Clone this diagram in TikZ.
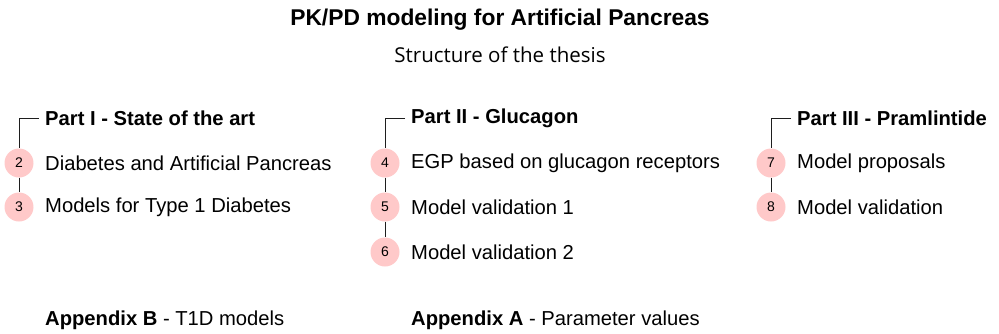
\documentclass[tikz,border=0pt]{standalone}
\usepackage{fontspec}
\setmainfont{Liberation Sans}
\newfontfamily\subfont{Open Sans}
\definecolor{pinkfill}{HTML}{FFC9C9}
\definecolor{linegray}{HTML}{1E1E1E}
\begin{document}
\begin{tikzpicture}[x=1pt,y=-1pt,
  every node/.style={inner sep=0pt},
  num/.style={circle,fill=pinkfill,minimum size=29pt,font=\fontsize{14}{14}\selectfont},
  item/.style={anchor=west,font=\fontsize{20.2}{20}\selectfont},
  head/.style={anchor=west,font=\fontsize{20.2}{20}\selectfont\bfseries},
  appx/.style={anchor=west,font=\fontsize{20.2}{20}\selectfont},
  link/.style={draw=linegray,line width=1pt}]
\useasboundingbox (0,0) rectangle (999,333);
\node (title) at (500,20) {\fontsize{22.8}{23}\selectfont\bfseries PK/PD modeling for Artificial Pancreas};
\node (sub) at (500,55) {\subfont\fontsize{20.5}{21}\selectfont Structure of the thesis};
% Part I
\coordinate (t1) at (19,118);
\node[head] (h1) at (45,118) {Part I - State of the art};
\node[num] (c2) at (19,163) {2};
\node[item] (i2) at (45,163) {Diabetes and Artificial Pancreas};
\node[num] (c3) at (19,207) {3};
\node[item] (i3) at (45,207) {Models for Type 1 Diabetes};
% Part II
\coordinate (t2) at (385,118);
\node[head] (h2) at (411,118) {Part II - Glucagon};
\node[num] (c4) at (385,163) {4};
\node[item] (i4) at (411,163) {EGP based on glucagon receptors};
\node[num] (c5) at (385,207) {5};
\node[item] (i5) at (411,207) {Model validation 1};
\node[num] (c6) at (385,252) {6};
\node[item] (i6) at (411,252) {Model validation 2};
% Part III
\coordinate (t3) at (771,118);
\node[head] (h3) at (797,118) {Part III - Pramlintide};
\node[num] (c7) at (771,163) {7};
\node[item] (i7) at (797,163) {Model proposals};
\node[num] (c8) at (771,207) {8};
\node[item] (i8) at (797,207) {Model validation};
% connectors
\draw[link] ([xshift=-6pt]h1.west) -- (t1) -- (c2);
\draw[link] (c2) -- (c3);
\draw[link] ([xshift=-6pt]h2.west) -- (t2) -- (c4);
\draw[link] (c4) -- (c5);
\draw[link] (c5) -- (c6);
\draw[link] ([xshift=-6pt]h3.west) -- (t3) -- (c7);
\draw[link] (c7) -- (c8);
% appendices
\node[appx] (ab) at (45,320) {\bfseries Appendix B\mdseries{} - T1D models};
\node[appx] (aa) at (411,320) {\bfseries Appendix A\mdseries{} - Parameter values};
\end{tikzpicture}
\end{document}
